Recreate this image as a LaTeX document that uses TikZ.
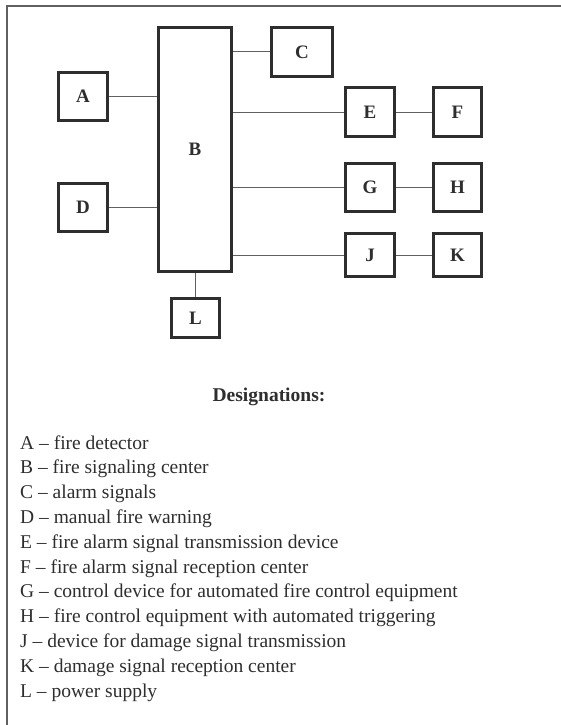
\documentclass[tikz,border=0pt]{standalone}
\usepackage{fontspec}
\setmainfont{Liberation Serif}
\definecolor{ink}{HTML}{2E2E2E}
\definecolor{wire}{HTML}{606060}
\begin{document}
\begin{tikzpicture}[x=1pt,y=-1pt,
  blk/.style={draw=ink,line width=3pt,inner sep=0pt,text=ink,
    font=\fontsize{19}{21}\selectfont\bfseries},
  wire/.style={draw=wire,line width=1pt},
  frame/.style={draw=wire,line width=1.6pt},
  legend/.style={anchor=base west,inner sep=0pt,text=ink,
    font=\fontsize{19.5}{24}\selectfont}]
\useasboundingbox (0,0) rectangle (561,725);
% frame
\coordinate (fTR) at (561,6);
\coordinate (fTL) at (7,6);
\coordinate (fBL) at (7,725);
\draw[frame] (fTR) -- (fTL) -- (fBL);
% boxes
\node[blk,minimum width=73pt,minimum height=244pt] (B) at (195,149.5) {B};
\node[blk,minimum width=49pt,minimum height=48pt] (A) at (83,96.5) {A};
\node[blk,minimum width=49pt,minimum height=48pt] (D) at (83,207.5) {D};
\node[blk,minimum width=48pt,minimum height=39pt] (L) at (195.5,318) {L};
\node[blk,minimum width=61pt,minimum height=49pt] (C) at (302,52) {C};
\node[blk,minimum width=49pt,minimum height=49pt] (E) at (370,112) {E};
\node[blk,minimum width=48pt,minimum height=49pt] (F) at (457.5,112) {F};
\node[blk,minimum width=49pt,minimum height=48pt] (G) at (370,187.5) {G};
\node[blk,minimum width=48pt,minimum height=48pt] (H) at (457.5,187.5) {H};
\node[blk,minimum width=49pt,minimum height=43pt] (J) at (370,255) {J};
\node[blk,minimum width=48pt,minimum height=43pt] (K) at (457.5,255) {K};
% connectors
\draw[wire] (A.east) -- (A.east -| B.west);
\draw[wire] (D.east) -- (D.east -| B.west);
\draw[wire] (L.north -| B.south) -- (B.south);
\draw[wire] (C.west -| B.east) -- (C.west);
\draw[wire] (E.west -| B.east) -- (E.west);
\draw[wire] (G.west -| B.east) -- (G.west);
\draw[wire] (J.west -| B.east) -- (J.west);
\draw[wire] (E.east) -- (F.west);
\draw[wire] (G.east) -- (H.west);
\draw[wire] (J.east) -- (K.west);
% legend
\node[inner sep=0pt,text=ink,anchor=base,font=\fontsize{19.5}{22}\selectfont\bfseries] (title) at (269,401) {Designations:};
\node[legend] (l1) at (20,449) {A -- fire detector};
\node[legend] (l2) at (20,473.8) {B -- fire signaling center};
\node[legend] (l3) at (20,498.6) {C -- alarm signals};
\node[legend] (l4) at (20,523.4) {D -- manual fire warning};
\node[legend] (l5) at (20,548.2) {E -- fire alarm signal transmission device};
\node[legend] (l6) at (20,573) {F -- fire alarm signal reception center};
\node[legend] (l7) at (20,597.8) {G -- control device for automated fire control equipment};
\node[legend] (l8) at (20,622.6) {H -- fire control equipment with automated triggering};
\node[legend] (l9) at (20,647.4) {J -- device for damage signal transmission};
\node[legend] (l10) at (20,672.2) {K -- damage signal reception center};
\node[legend] (l11) at (20,697) {L -- power supply};
\end{tikzpicture}
\end{document}
